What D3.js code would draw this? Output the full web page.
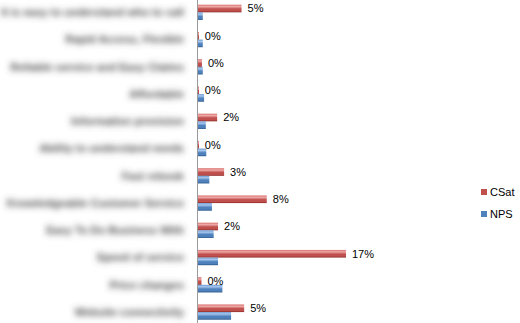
<!DOCTYPE html>
<html>
<head>
<meta charset="utf-8">
<script src="https://cdn.jsdelivr.net/npm/d3@7"></script>
<style>
body { margin: 0; background: #fff; }
svg { display: block; font-family: "Liberation Sans", Arial, sans-serif; }
</style>
</head>
<body>
<svg id="chart" width="520" height="323"></svg>
<script>
// category names (blurred in the source picture, so these are best guesses)
var categories = [
    "It is easy to understand who to call",
    "Rapid Access, Flexible",
    "Reliable service and Easy Claims",
    "Affordable",
    "Information provision",
    "Ability to understand needs",
    "Fast rebook",
    "Knowledgeable Customer Service",
    "Easy To Do Business With",
    "Speed of service",
    "Price changes",
    "Website connectivity"
];
var csat = [5.0, 0.1, 0.45, 0.1, 2.2, 0.1, 3.0, 7.9, 2.3, 17.0, 0.4, 5.3];
var nps = [0.55, 0.55, 0.55, 0.7, 0.9, 0.95, 1.3, 1.6, 1.8, 2.3, 2.8, 3.8];
var seriesNames = ["CSat", "NPS"];
var seriesColors = [
    ["#eeaaa8", "#d9706d", "#c0504d", "#8e2c29"],
    ["#a6c6ee", "#6f9ad2", "#4f81bd", "#2b5788"]
];

var svg = d3.select("#chart");
var defs = svg.append("defs");

seriesColors.forEach(function (c, i) {
    var g = defs.append("linearGradient").attr("id", "grad" + i)
        .attr("x1", 0).attr("y1", 0).attr("x2", 0).attr("y2", 1);
    g.append("stop").attr("offset", "0%").attr("stop-color", c[1]);
    g.append("stop").attr("offset", "25%").attr("stop-color", c[0]);
    g.append("stop").attr("offset", "55%").attr("stop-color", c[2]);
    g.append("stop").attr("offset", "80%").attr("stop-color", c[2]);
    g.append("stop").attr("offset", "100%").attr("stop-color", c[3]);
});
defs.append("filter").attr("id", "blur")
    .attr("filterUnits", "userSpaceOnUse")
    .attr("x", 0).attr("y", -10).attr("width", 200).attr("height", 345)
    .append("feGaussianBlur").attr("stdDeviation", 3.2);

var x = d3.scaleLinear().domain([0, 17]).range([198, 346]);
var y = d3.scaleBand().domain(categories).range([-1.3, 325.7]).paddingInner(0.44).paddingOuter(0.22);
var inner = d3.scaleBand().domain(seriesNames).range([0, y.bandwidth()]);

// axis line
svg.append("line")
    .attr("x1", 197.5).attr("x2", 197.5).attr("y1", 0).attr("y2", 323)
    .attr("stroke", "#9a9a9a").attr("stroke-width", 1);

// category labels
svg.append("g").attr("filter", "url(#blur)")
    .selectAll("text").data(categories).enter().append("text")
    .attr("x", 184)
    .attr("y", function (d) { return y(d) + y.bandwidth() / 2; })
    .attr("dy", "0.35em")
    .attr("text-anchor", "end")
    .attr("font-size", 11)
    .attr("font-weight", "bold")
    .attr("fill", "#4a4a4a")
    .text(function (d) { return d; });

var series = [csat, nps];
series.forEach(function (vals, si) {
    svg.append("g").selectAll("rect").data(vals).enter().append("rect")
        .attr("x", x(0))
        .attr("y", function (d, i) { return y(categories[i]) + inner(seriesNames[si]); })
        .attr("width", function (d) { return Math.max(1, x(d) - x(0)); })
        .attr("height", inner.bandwidth())
        .attr("fill", "url(#grad" + si + ")");
});

// data labels for CSat
svg.append("g").selectAll("text").data(csat).enter().append("text")
    .attr("x", function (d) { return x(d) + 6; })
    .attr("y", function (d, i) { return y(categories[i]) + inner("CSat") + inner.bandwidth() / 2; })
    .attr("dy", "0.35em")
    .attr("font-size", 11)
    .attr("fill", "#000")
    .text(function (d) { return Math.round(d) + "%"; });

// legend
var legend = svg.append("g").selectAll("g").data(seriesNames).enter().append("g")
    .attr("transform", function (d, i) { return "translate(481," + (192 + i * 22) + ")"; });
legend.append("rect").attr("x", 0).attr("y", -3).attr("width", 6).attr("height", 6)
    .attr("fill", function (d, i) { return seriesColors[i][2]; });
legend.append("text").attr("x", 9).attr("dy", "0.35em")
    .attr("font-size", 11).attr("fill", "#000")
    .text(function (d) { return d; });
</script>
</body>
</html>
